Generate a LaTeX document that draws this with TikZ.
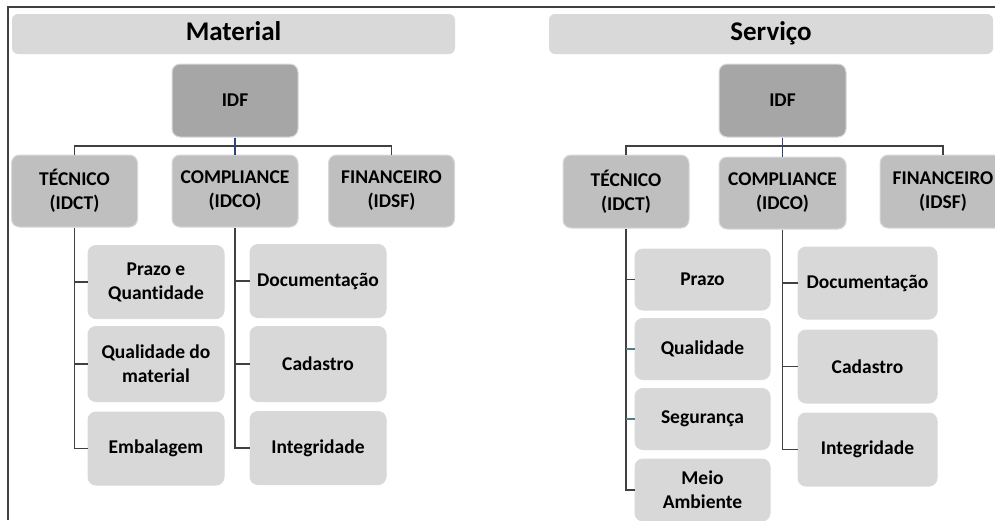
\documentclass[tikz,border=0pt]{standalone}
\usepackage{fontspec}
\setmainfont{Carlito}[Ligatures=NoCommon]
\usepackage{tikz}
\definecolor{hdrgray}{RGB}{217,217,217}
\definecolor{idfgray}{RGB}{166,166,166}
\definecolor{midgray}{RGB}{191,191,191}
\definecolor{litegray}{RGB}{216,216,216}
\definecolor{linegray}{RGB}{64,64,64}
\definecolor{idfblue}{RGB}{47,69,120}
\definecolor{tealgray}{RGB}{84,122,140}
\tikzset{every path/.style={line width=1.5pt}}
\tikzset{
  box/.style={rounded corners=8pt, draw=white!85!black, line width=1pt, align=center,
    inner sep=0pt, font=\bfseries\fontsize{19.5}{24}\selectfont},
  hdrbox/.style={box, draw=none, fill=hdrgray, rounded corners=6pt, minimum width=443pt,
    minimum height=40pt, text height=18pt, text depth=6pt,
    font=\bfseries\fontsize{27}{32}\selectfont},
  idfbox/.style={box, fill=idfgray, minimum width=126pt, minimum height=73pt},
  topbox/.style={box, fill=midgray, minimum width=126pt, minimum height=72pt},
  subbox/.style={box, fill=litegray, minimum width=136pt, minimum height=73pt},
  link/.style={draw=linegray, line width=1.5pt},
  idflink/.style={draw=idfblue, line width=1.5pt},
  sidelink/.style={draw=tealgray, line width=1.5pt}
}

\begin{document}
\begin{tikzpicture}[x=1pt,y=-1pt]
\useasboundingbox (0,0) rectangle (995,520);
\draw[linegray] (8,520) -- (8,7) -- (995,7);

% Material
\node[hdrbox] (matHdr) at (233.5,34) {Material};
\node[idfbox] (idfL) at (235,100.5) {IDF};
\node[topbox] (tecL) at (74.5,191) {TÉCNICO\\(IDCT)};
\node[topbox] (cmpL) at (235,191) {COMPLIANCE\\(IDCO)};
\node[topbox] (finL) at (391.5,191) {FINANCEIRO\\(IDSF)};
\node[subbox] (pqL) at (156,282) {Prazo e\\Quantidade};
\node[subbox, minimum height=75pt] (qmL) at (156,364) {Qualidade do\\material};
\node[subbox] (embL) at (156,448.5) {Embalagem};
\node[subbox] (docL) at (318,281) {Documentação};
\node[subbox, minimum height=75pt] (cadL) at (318,364) {Cadastro};
\node[subbox] (intL) at (318,448) {Integridade};

\coordinate (busL) at (235,146);
\draw[link] (tecL.north) -- (tecL.north |- busL) -- (finL.north |- busL) -- (finL.north);
\draw[idflink] (idfL.south) -- (cmpL.north);
\draw[link] (tecL.south) |- (embL.west);
\draw[link] (tecL.south |- pqL.west) -- (pqL.west);
\draw[link] (tecL.south |- qmL.west) -- (qmL.west);
\draw[link] (cmpL.south) |- (intL.west);
\draw[link] (cmpL.south |- docL.west) -- (docL.west);
\draw[link] (cmpL.south |- cadL.west) -- (cadL.west);

% Servico
\node[hdrbox, minimum width=444pt] (srvHdr) at (771,34) {Serviço};
\node[idfbox, minimum width=127pt] (idfR) at (782.5,100.5) {IDF};
\node[topbox, minimum height=73pt] (tecR) at (626,191.5) {TÉCNICO\\(IDCT)};
\node[topbox, minimum width=127pt] (cmpR) at (782.5,193) {COMPLIANCE\\(IDCO)};
\node[topbox, minimum height=73pt] (finR) at (943,191.5) {FINANCEIRO\\(IDSF)};
\node[subbox, minimum width=135pt, minimum height=61pt] (przR) at (702.5,279.5) {Prazo};
\node[subbox, minimum width=135pt, minimum height=61pt] (qualR) at (702.5,349) {Qualidade};
\node[subbox, minimum width=135pt, minimum height=61pt] (segR) at (702.5,419) {Segurança};
\node[subbox, minimum width=135pt, minimum height=62pt] (meioR) at (702.5,490) {Meio\\Ambiente};
\node[subbox, minimum width=139pt, minimum height=72pt] (docR) at (867.5,283) {Documentação};
\node[subbox, minimum width=139pt] (cadR) at (867.5,366.5) {Cadastro};
\node[subbox, minimum width=139pt] (intR) at (867.5,449.5) {Integridade};

\coordinate (busR) at (782.5,146);
\draw[link] (tecR.north) -- (tecR.north |- busR) -- (finR.north |- busR) -- (finR.north);
\draw[idflink] (idfR.south) -- (cmpR.north);
\draw[link] (tecR.south) |- (meioR.west);
\draw[link] (tecR.south |- przR.west) -- (przR.west);
\draw[sidelink] (tecR.south |- qualR.west) -- (qualR.west);
\draw[sidelink] (tecR.south |- segR.west) -- (segR.west);
\draw[link] (cmpR.south) |- (intR.west);
\draw[link] (cmpR.south |- docR.west) -- (docR.west);
\draw[link] (cmpR.south |- cadR.west) -- (cadR.west);
\end{tikzpicture}
\end{document}
